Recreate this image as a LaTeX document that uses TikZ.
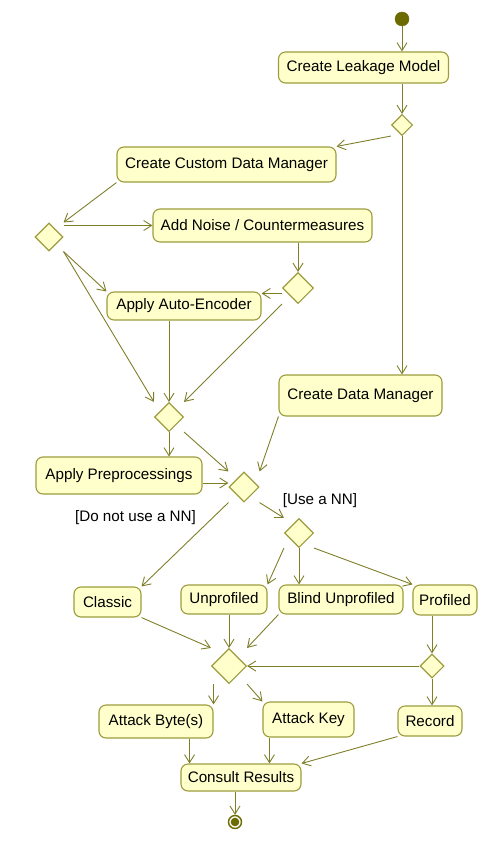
\documentclass[tikz,border=0pt]{standalone}
\usepackage{fontspec}
\setmainfont{Liberation Sans}
\usepackage{tikz}
\usetikzlibrary{arrows.meta,positioning,shapes.geometric}
\definecolor{UmlFill}{HTML}{FFFFCC}
\definecolor{UmlBorder}{HTML}{9C9C3E}
\definecolor{UmlLine}{HTML}{7F7F2A}
\definecolor{UmlDark}{HTML}{6B6B00}

\begin{document}
\begin{tikzpicture}[x=1pt,y=-1pt,>={Straight Barb[length=8pt,width=10pt]},
    action/.style={draw=UmlBorder, fill=UmlFill, rounded corners=7pt, line width=1.1pt, inner sep=0pt, font=\fontsize{15.2}{18}\selectfont},
    decision/.style={diamond, draw=UmlBorder, fill=UmlFill, line width=1.1pt, inner sep=0pt, aspect=1},
    flow/.style={->, draw=UmlLine, line width=0.9pt},
    guard/.style={inner sep=0pt, font=\fontsize{15.2}{18}\selectfont}]
        \useasboundingbox (0,0) rectangle (487,853);
        \node[circle, draw=UmlDark, fill=UmlDark, minimum size=14pt, inner sep=0pt] (start) at (402,19) {};
        \node[action, minimum width=170pt, minimum height=31pt] (leak) at (363.5,67.5) {Create Leakage Model};
        \node[decision, minimum width=21pt, minimum height=21pt] (d1) at (402,125) {};
        \node[action, minimum width=219pt, minimum height=35pt] (custom) at (226.5,164.5) {Create Custom Data Manager};
        \node[decision, minimum width=28pt, minimum height=28pt] (d2) at (49,237) {};
        \node[action, minimum width=219pt, minimum height=33pt] (noise) at (262.5,225.5) {Add Noise / Countermeasures};
        \node[decision, minimum width=31pt, minimum height=31pt] (d3) at (298,288) {};
        \node[action, minimum width=154pt, minimum height=28pt] (autoenc) at (184,306) {Apply Auto-Encoder};
        \node[decision, minimum width=29pt, minimum height=29pt] (d4) at (169,417) {};
        \node[action, minimum width=163pt, minimum height=41pt] (datamgr) at (360.5,395.5) {Create Data Manager};
        \node[action, minimum width=166pt, minimum height=37pt] (preproc) at (119,475.5) {Apply Preprocessings};
        \node[decision, minimum width=30pt, minimum height=30pt] (d5) at (244,487) {};
        \node[decision, minimum width=29pt, minimum height=29pt] (d6) at (299,533) {};
        \node[guard] (useNN) at (320,501) {[Use a NN]};
        \node[guard] (noNN) at (135.5,518) {[Do not use a NN]};
        \node[action, minimum width=67pt, minimum height=30pt] (classic) at (107.5,602) {Classic};
        \node[action, minimum width=86pt, minimum height=29pt] (unprof) at (224,599.5) {Unprofiled};
        \node[action, minimum width=124pt, minimum height=29pt] (blind) at (341,599.5) {Blind Unprofiled};
        \node[action, minimum width=64pt, minimum height=30pt] (prof) at (445,600) {Profiled};
        \node[decision, minimum width=35pt, minimum height=35pt] (d7) at (229,666) {};
        \node[decision, minimum width=24pt, minimum height=24pt] (d8) at (432,666) {};
        \node[action, minimum width=114pt, minimum height=33pt] (atkbyte) at (156,721.5) {Attack Byte(s)};
        \node[action, minimum width=91pt, minimum height=35pt] (atkkey) at (308.5,719.5) {Attack Key};
        \node[action, minimum width=64pt, minimum height=30pt] (record) at (430,721) {Record};
        \node[action, minimum width=120pt, minimum height=27pt] (consult) at (241,777.5) {Consult Results};
        \node[circle, draw=UmlDark, line width=1.4pt, fill=white, minimum size=13pt, inner sep=0pt,
              path picture={\fill[UmlDark] (path picture bounding box.center) circle (4.3pt);}] (final) at (235,822) {};
        \draw[flow] (start) -- (start |- leak.north);
        \draw[flow] (d1 |- leak.south) -- (d1.north);
        \draw[flow] (d1.south -| d1.west) -- (custom.north east);
        \draw[flow] (d1.south) -- (d1 |- datamgr.north);
        \draw[flow] (custom.south west) -- (d2.north -| d2.east);
        \draw[flow] (d2.east |- noise.west) -- (noise.west);
        \draw[flow] (d2.south -| d2.east) -- (autoenc.north west);
        \draw[flow] (d2.south -| d2.east) -- (d4.north -| d4.west);
        \draw[flow] (d3 |- noise.south) -- (d3.north);
        \draw[flow] ([yshift=-2pt]d3.west |- autoenc.north east) -- ([yshift=-2pt]autoenc.north east);
        \draw[flow] (d3.south -| d3.west) -- (d4.north -| d4.east);
        \draw[flow] (d4 |- autoenc.south) -- (d4.north);
        \draw[flow] (d4.south) -- (d4 |- preproc.north);
        \draw[flow] (d4.south -| d4.east) -- (d5.north -| d5.west);
        \draw[flow] (datamgr.south west) -- (d5.north -| d5.east);
        \draw[flow] ([yshift=4pt]preproc.east |- d5.west) -- ([yshift=4pt]d5.west);
        \draw[flow] (d5.south -| d5.east) -- (d6.north -| d6.west);
        \draw[flow] (d5.south -| d5.west) -- (classic.north east);
        \draw[flow] (d6.south -| d6.west) -- (unprof.north east);
        \draw[flow] (d6.south) -- (d6 |- blind.north);
        \draw[flow] (d6.south -| d6.east) -- (prof.north west);
        \draw[flow] (classic.south east) -- (d7.north -| d7.west);
        \draw[flow] (d7 |- unprof.south) -- (d7.north);
        \draw[flow] (blind.south west) -- (d7.north -| d7.east);
        \draw[flow] (d8 |- prof.south) -- (d8.north);
        \draw[flow] (d8.west) -- (d7.east);
        \draw[flow] (d8.south) -- (d8 |- record.north);
        \draw[flow] (atkbyte.east |- d7.south) -- (atkbyte.north east);
        \draw[flow] (d7.south -| d7.east) -- (atkkey.north west);
        \draw[flow] ([xshift=-24pt]atkbyte.south east) -- ([xshift=-24pt]atkbyte.south east |- consult.north);
        \draw[flow] ([xshift=7pt]atkkey.south west) -- ([xshift=7pt]atkkey.south west |- consult.north);
        \draw[flow] (record.south west) -- (consult.north east);
        \draw[flow] (final |- consult.south) -- (final.north);
\end{tikzpicture}
\end{document}
